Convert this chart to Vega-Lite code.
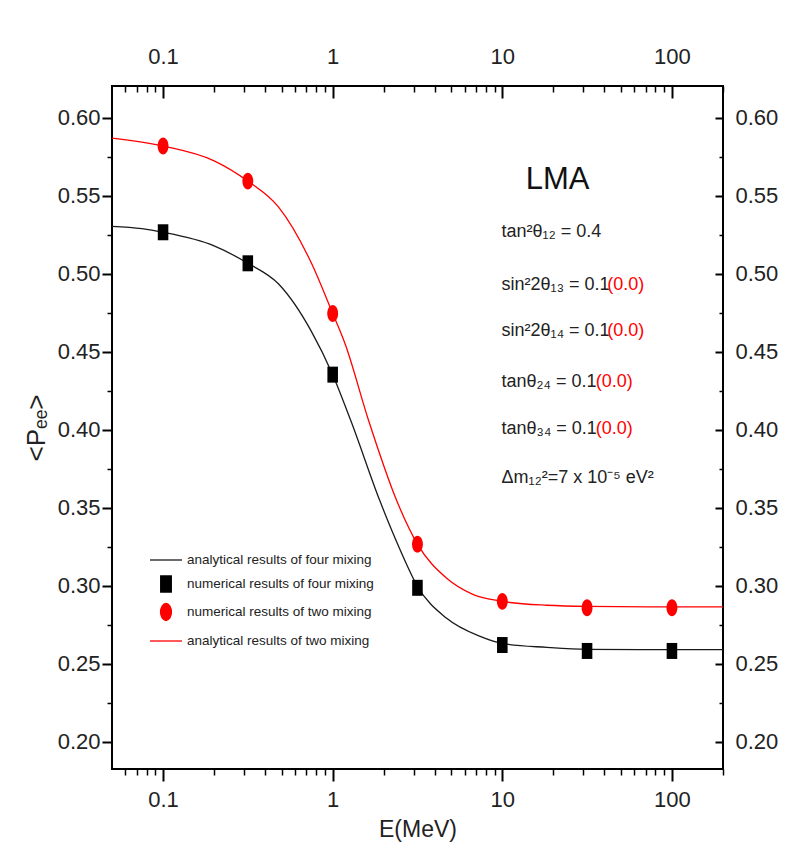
{
  "$schema": "https://vega.github.io/schema/vega-lite/v6.json",
  "width": 611,
  "height": 683,
  "autosize": {"type": "none"},
  "padding": {"left": 112, "top": 86, "right": 81, "bottom": 98},
  "background": "white",
  "config": {
    "view": {"stroke": "black", "strokeWidth": 2},
    "axis": {"domain": false, "grid": false, "tickColor": "black", "labelColor": "#222", "labelFont": "Liberation Sans, sans-serif", "titleFont": "Liberation Sans, sans-serif", "titleFontWeight": "normal", "titleColor": "#222", "labelFlush": false, "labelOverlap": false},
    "legend": {"labelFont": "Liberation Sans, sans-serif", "labelFontSize": 13.5, "labelLimit": 500, "labelColor": "#222", "rowPadding": -1, "padding": 0, "labelOffset": 4}
  },
  "datasets": {
    "curves": [
      {"E": 0.05, "P": 0.5305, "series": "analytical results of four mixing"},
      {"E": 0.075, "P": 0.529, "series": "analytical results of four mixing"},
      {"E": 0.1, "P": 0.5267, "series": "analytical results of four mixing"},
      {"E": 0.2, "P": 0.518, "series": "analytical results of four mixing"},
      {"E": 0.316, "P": 0.5068, "series": "analytical results of four mixing"},
      {"E": 0.48, "P": 0.4935, "series": "analytical results of four mixing"},
      {"E": 0.75, "P": 0.463, "series": "analytical results of four mixing"},
      {"E": 1.0, "P": 0.4354, "series": "analytical results of four mixing"},
      {"E": 1.28, "P": 0.4058, "series": "analytical results of four mixing"},
      {"E": 1.9, "P": 0.3543, "series": "analytical results of four mixing"},
      {"E": 2.5, "P": 0.323, "series": "analytical results of four mixing"},
      {"E": 3.16, "P": 0.2997, "series": "analytical results of four mixing"},
      {"E": 4.7, "P": 0.2791, "series": "analytical results of four mixing"},
      {"E": 7.4, "P": 0.2675, "series": "analytical results of four mixing"},
      {"E": 10, "P": 0.263, "series": "analytical results of four mixing"},
      {"E": 18.3, "P": 0.2605, "series": "analytical results of four mixing"},
      {"E": 31.6, "P": 0.2592, "series": "analytical results of four mixing"},
      {"E": 100, "P": 0.259, "series": "analytical results of four mixing"},
      {"E": 200, "P": 0.259, "series": "analytical results of four mixing"},
      {"E": 0.05, "P": 0.5871, "series": "analytical results of two mixing"},
      {"E": 0.1, "P": 0.582, "series": "analytical results of two mixing"},
      {"E": 0.2, "P": 0.5725, "series": "analytical results of two mixing"},
      {"E": 0.316, "P": 0.5595, "series": "analytical results of two mixing"},
      {"E": 0.48, "P": 0.5428, "series": "analytical results of two mixing"},
      {"E": 0.75, "P": 0.5068, "series": "analytical results of two mixing"},
      {"E": 1.0, "P": 0.4746, "series": "analytical results of two mixing"},
      {"E": 1.18, "P": 0.4555, "series": "analytical results of two mixing"},
      {"E": 1.63, "P": 0.4058, "series": "analytical results of two mixing"},
      {"E": 2.39, "P": 0.3543, "series": "analytical results of two mixing"},
      {"E": 3.16, "P": 0.3267, "series": "analytical results of two mixing"},
      {"E": 4.7, "P": 0.3048, "series": "analytical results of two mixing"},
      {"E": 6.7, "P": 0.2945, "series": "analytical results of two mixing"},
      {"E": 10, "P": 0.29, "series": "analytical results of two mixing"},
      {"E": 18.3, "P": 0.2875, "series": "analytical results of two mixing"},
      {"E": 31.6, "P": 0.2868, "series": "analytical results of two mixing"},
      {"E": 100, "P": 0.2865, "series": "analytical results of two mixing"},
      {"E": 200, "P": 0.2865, "series": "analytical results of two mixing"}
    ],
    "points": [
      {"E": 0.1, "P": 0.5267, "series": "numerical results of four mixing"},
      {"E": 0.316, "P": 0.5068, "series": "numerical results of four mixing"},
      {"E": 1.0, "P": 0.4354, "series": "numerical results of four mixing"},
      {"E": 3.16, "P": 0.2987, "series": "numerical results of four mixing"},
      {"E": 10, "P": 0.262, "series": "numerical results of four mixing"},
      {"E": 31.6, "P": 0.2582, "series": "numerical results of four mixing"},
      {"E": 100, "P": 0.2582, "series": "numerical results of four mixing"},
      {"E": 0.1, "P": 0.582, "series": "numerical results of two mixing"},
      {"E": 0.316, "P": 0.5595, "series": "numerical results of two mixing"},
      {"E": 1.0, "P": 0.4746, "series": "numerical results of two mixing"},
      {"E": 3.16, "P": 0.3267, "series": "numerical results of two mixing"},
      {"E": 10, "P": 0.29, "series": "numerical results of two mixing"},
      {"E": 31.6, "P": 0.2859, "series": "numerical results of two mixing"},
      {"E": 100, "P": 0.2859, "series": "numerical results of two mixing"}
    ],
    "notes": [
      {"E": 9.9, "P": 0.5267, "text": "tan²θ₁₂ = 0.4"},
      {"E": 9.9, "P": 0.4932, "text": "sin²2θ₁₃ = 0.1"},
      {"E": 9.9, "P": 0.4637, "text": "sin²2θ₁₄ = 0.1"},
      {"E": 9.9, "P": 0.4309, "text": "tanθ₂₄ = 0.1"},
      {"E": 9.9, "P": 0.4006, "text": "tanθ₃₄ = 0.1"},
      {"E": 9.9, "P": 0.3691, "text": "Δm₁₂²=7 x 10⁻⁵ eV²"}
    ],
    "notesRed": [
      {"E": 41.5, "P": 0.4932, "text": "(0.0)"},
      {"E": 41.5, "P": 0.4637, "text": "(0.0)"},
      {"E": 35.5, "P": 0.4309, "text": "(0.0)"},
      {"E": 35.5, "P": 0.4006, "text": "(0.0)"}
    ],
    "heading": [
      {"E": 21.2, "P": 0.5601, "text": "LMA"}
    ]
  },
  "resolve": {"axis": {"x": "independent", "y": "independent"}},
  "layer": [
    {
      "data": {"name": "curves"},
      "mark": {"type": "line", "interpolate": "monotone", "strokeWidth": 1.3},
      "encoding": {
        "x": {"field": "E", "type": "quantitative", "scale": {"type": "log", "domain": [0.05, 200], "nice": false},
          "axis": {"orient": "bottom", "values": [0.1, 1, 10, 100], "format": "~g", "tickSize": 12, "tickWidth": 2, "labelFontSize": 22, "labelPadding": 8, "title": "E(MeV)", "titleFontSize": 23, "titlePadding": 8}},
        "y": {"field": "P", "type": "quantitative", "scale": {"domain": [0.1825, 0.6205], "nice": false, "zero": false},
          "axis": {"orient": "left", "values": [0.2, 0.25, 0.3, 0.35, 0.4, 0.45, 0.5, 0.55, 0.6], "format": ".2f", "tickSize": 10, "tickWidth": 2, "labelFontSize": 22, "labelPadding": 2, "title": "<Pₑₑ>", "titleFontSize": 26, "titlePadding": 8}},
        "color": {"field": "series", "type": "nominal",
          "scale": {"domain": ["analytical results of four mixing", "numerical results of four mixing", "numerical results of two mixing", "analytical results of two mixing"], "range": ["#1a1a1a", "#000000", "#ff0000", "#ff0000"]}},
        "detail": {"field": "series"}
      }
    },
    {
      "data": {"name": "points"},
      "mark": {"type": "point", "filled": true, "opacity": 1, "size": 1024},
      "encoding": {
        "x": {"field": "E", "type": "quantitative",
          "axis": {"orient": "bottom", "values": [0.06, 0.07, 0.08, 0.09, 0.2, 0.3, 0.4, 0.5, 0.6, 0.7, 0.8, 0.9, 2, 3, 4, 5, 6, 7, 8, 9, 20, 30, 40, 50, 60, 70, 80, 90, 200], "tickSize": 6, "tickWidth": 1.5, "labels": false, "title": null}},
        "y": {"field": "P", "type": "quantitative",
          "axis": {"orient": "left", "values": [0.225, 0.275, 0.325, 0.375, 0.425, 0.475, 0.525, 0.575], "tickSize": 5, "tickWidth": 1.5, "labels": false, "title": null}},
        "color": {"field": "series", "type": "nominal",
          "legend": {"orient": "none", "legendX": 37, "legendY": 457, "title": null, "padding": 0, "symbolSize": 1024, "symbolStrokeWidth": 1.3, "labelOffset": 4, "rowPadding": -1, "labelLimit": 500, "labelFont": "Liberation Sans, sans-serif", "labelFontSize": 13.5, "labelColor": "#222",
            "encode": {"symbols": {"update": {"stroke": {"scale": "color", "field": "value"}, "fill": {"scale": "color", "field": "value"}, "strokeWidth": {"value": 1.3}, "opacity": {"value": 1}}}}}},
        "shape": {"field": "series", "type": "nominal",
          "scale": {"domain": ["analytical results of four mixing", "numerical results of four mixing", "numerical results of two mixing", "analytical results of two mixing"], "range": ["M-1,0H1", "M-0.33,-0.5H0.33V0.5H-0.33Z", "M0,-0.53A0.34,0.53,0,1,1,0,0.53A0.34,0.53,0,1,1,0,-0.53Z", "M-1,0H1"]}}
      }
    },
    {
      "data": {"name": "notes"},
      "mark": {"type": "text", "align": "left", "baseline": "middle", "font": "Liberation Sans, sans-serif", "fontSize": 18, "color": "#222"},
      "encoding": {
        "x": {"field": "E", "type": "quantitative",
          "axis": {"orient": "top", "values": [0.1, 1, 10, 100], "format": "~g", "tickSize": -12, "tickWidth": 2, "labelFontSize": 22, "labelPadding": 30, "title": null}},
        "y": {"field": "P", "type": "quantitative",
          "axis": {"orient": "right", "values": [0.2, 0.25, 0.3, 0.35, 0.4, 0.45, 0.5, 0.55, 0.6], "format": ".2f", "tickSize": -8, "tickWidth": 2, "labelFontSize": 22, "labelPadding": 20, "title": null}},
        "text": {"field": "text"}
      }
    },
    {
      "data": {"name": "notesRed"},
      "mark": {"type": "text", "align": "left", "baseline": "middle", "font": "Liberation Sans, sans-serif", "fontSize": 18, "color": "#ff0000"},
      "encoding": {
        "x": {"field": "E", "type": "quantitative",
          "axis": {"orient": "top", "values": [0.06, 0.07, 0.08, 0.09, 0.2, 0.3, 0.4, 0.5, 0.6, 0.7, 0.8, 0.9, 2, 3, 4, 5, 6, 7, 8, 9, 20, 30, 40, 50, 60, 70, 80, 90, 200], "tickSize": -6, "tickWidth": 1.5, "labels": false, "title": null}},
        "y": {"field": "P", "type": "quantitative",
          "axis": {"orient": "right", "values": [0.225, 0.275, 0.325, 0.375, 0.425, 0.475, 0.525, 0.575], "tickSize": -4, "tickWidth": 1.5, "labels": false, "title": null}},
        "text": {"field": "text"}
      }
    },
    {
      "data": {"name": "heading"},
      "mark": {"type": "text", "align": "center", "baseline": "middle", "font": "Liberation Sans, sans-serif", "fontSize": 31, "color": "#111"},
      "encoding": {
        "x": {"field": "E", "type": "quantitative", "axis": null},
        "y": {"field": "P", "type": "quantitative", "axis": null},
        "text": {"field": "text"}
      }
    }
  ]
}
